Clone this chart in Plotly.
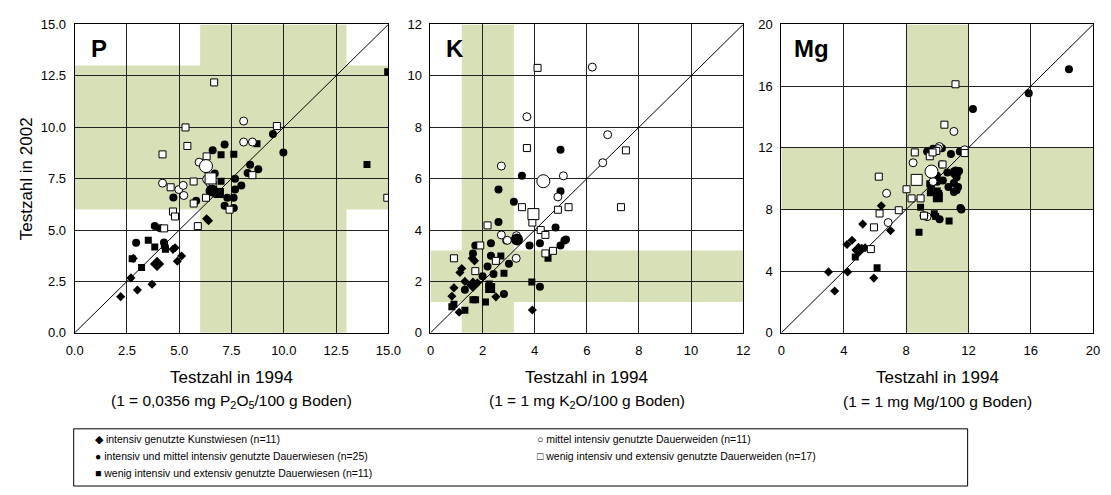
import plotly.graph_objects as go

W, H = 1111, 495
FONT = "Liberation Sans, Arial, sans-serif"

# ---------------- axis / panel definitions ----------------
panel_names = ["P", "K", "Mg"]
axis_max = [15.0, 12.0, 20.0]
tick_vals_P = [0.0, 2.5, 5.0, 7.5, 10.0, 12.5, 15.0]
tick_text_P = ["0.0", "2.5", "5.0", "7.5", "10.0", "12.5", "15.0"]
tick_vals_K = [0, 2, 4, 6, 8, 10, 12]
tick_text_K = ["0", "2", "4", "6", "8", "10", "12"]
tick_vals_Mg = [0, 4, 8, 12, 16, 20]
tick_text_Mg = ["0", "4", "8", "12", "16", "20"]
opt_low = [6.0, 1.2, 8.0]     # optimal range (green bands)
opt_high = [13.0, 3.2, 12.0]
subtitles = ["(1 = 0,0356 mg P<sub>2</sub>O<sub>5</sub>/100 g Boden)",
             "(1 = 1 mg K<sub>2</sub>O/100 g Boden)",
             "(1 = 1 mg Mg/100 g Boden)"]
x_title = "Testzahl in 1994"
y_title = "Testzahl in 2002"

group_labels = [
    "intensiv genutzte Kunstwiesen (n=11)",
    "intensiv und mittel intensiv genutzte Dauerwiesen (n=25)",
    "wenig intensiv und extensiv genutzte Dauerwiesen (n=11)",
    "mittel intensiv genutzte Dauerweiden (n=11)",
    "wenig intensiv und extensiv genutzte Dauerweiden (n=17)",
]
legend_glyphs = ["\u25c6", "\u25cf", "\u25a0", "\u25cb", "\u25a1"]

# ---------------- data: P ----------------
P_kunst_1994 = [2.20, 3.00, 3.70, 2.69, 2.80, 4.70, 4.80, 4.91, 5.11, 6.31, 6.40]
P_kunst_2002 = [1.76, 2.08, 2.36, 2.67, 3.62, 4.06, 4.14, 3.48, 3.74, 5.55, 5.45]
P_wiesen_1994 = [2.94, 3.83, 4.09, 4.27, 4.31, 4.72, 5.81, 6.60, 7.17, 6.70, 7.67, 7.97, 7.67,
                 7.60, 7.30, 7.17, 7.61, 8.39, 8.27, 8.78, 9.48, 9.98, 6.45, 6.75, 6.50]
P_wiesen_2002 = [4.38, 5.20, 5.09, 4.39, 4.20, 6.58, 6.42, 8.88, 9.16, 7.75, 7.49, 7.17, 6.97,
                 6.57, 6.57, 6.18, 6.07, 8.17, 7.78, 7.96, 9.67, 8.77, 6.90, 6.75, 7.00]
P_wiesenext_1994 = [2.75, 3.20, 3.52, 3.83, 4.34, 7.00, 7.61, 8.72, 7.00, 14.97, 13.98]
P_wiesenext_2002 = [3.60, 3.18, 4.50, 4.17, 4.06, 8.66, 8.68, 9.20, 7.37, 12.70, 8.19]
P_weiden_1994 = [8.08, 8.08, 8.50, 4.20, 4.98, 5.19, 5.22, 6.11, 6.31, 6.45, 5.95]
P_weiden_2002 = [10.30, 9.28, 9.28, 7.28, 6.97, 7.17, 6.68, 8.25, 7.47, 7.30, 8.30]
P_weidenext_1994 = [4.20, 5.30, 5.39, 6.31, 4.59, 5.69, 5.69, 6.28, 6.60, 4.70, 4.80, 4.28,
                    5.89, 7.41, 8.50, 9.67, 6.67, 14.95]
P_weidenext_2002 = [8.68, 9.99, 9.09, 8.58, 7.08, 7.36, 6.29, 6.57, 7.20, 5.90, 5.66, 5.08,
                    5.19, 5.99, 7.67, 10.06, 12.18, 6.57]
P_mean_1994 = [3.94, 6.58, 6.90, 6.28, 6.50]
P_mean_2002 = [3.35, 6.92, 6.80, 8.11, 7.51]

# ---------------- data: K ----------------
K_kunst_1994 = [0.82, 0.90, 1.10, 1.13, 1.20, 1.32, 1.60, 1.69, 1.80, 2.51, 3.91]
K_kunst_2002 = [1.42, 1.75, 0.80, 2.35, 2.50, 2.00, 2.90, 2.80, 1.95, 1.40, 0.89]
K_wiesen_1994 = [1.72, 1.63, 1.32, 2.00, 2.19, 2.32, 2.32, 2.42, 2.61, 2.61, 2.82, 2.91, 3.01,
                 3.20, 3.51, 3.80, 4.20, 4.20, 4.80, 4.99, 4.99, 4.99, 5.14, 5.20, 3.25]
K_wiesen_2002 = [3.40, 3.09, 1.68, 2.20, 2.58, 3.00, 3.49, 2.29, 5.58, 4.31, 1.51, 3.59, 2.69,
                 5.10, 6.11, 3.40, 1.79, 3.49, 4.10, 7.12, 5.51, 3.40, 3.59, 3.63, 3.65]
K_wiesenext_1994 = [0.82, 0.90, 1.32, 1.63, 1.73, 2.11, 2.70, 2.82, 3.89, 4.51, 2.25]
K_wiesenext_2002 = [1.01, 1.11, 0.88, 1.29, 1.29, 1.20, 2.99, 2.32, 1.98, 2.90, 1.90]
K_weiden_1994 = [2.72, 3.70, 6.21, 6.80, 6.61, 5.10, 4.89, 2.72, 3.30, 3.29, 2.95]
K_weiden_2002 = [6.49, 8.41, 10.34, 7.71, 6.62, 6.11, 5.29, 3.81, 3.78, 2.90, 3.60]
K_weidenext_1994 = [4.11, 3.70, 7.50, 7.31, 3.51, 4.89, 5.30, 3.91, 4.23, 4.41, 4.41, 4.70,
                    2.19, 1.91, 2.51, 1.72, 0.90]
K_weidenext_2002 = [10.31, 7.19, 7.10, 4.89, 4.89, 4.79, 4.89, 4.29, 4.00, 3.81, 3.09, 3.19,
                    4.18, 3.40, 2.80, 2.40, 2.90]
K_mean_1994 = [1.63, 3.32, 2.29, 4.33, 3.95]
K_mean_2002 = [1.87, 3.63, 1.74, 5.90, 4.62]

# ---------------- data: Mg ----------------
Mg_kunst_1994 = [3.02, 3.42, 4.25, 4.21, 4.53, 5.22, 6.41, 7.00, 5.93, 5.37, 5.16]
Mg_kunst_2002 = [3.95, 2.71, 3.95, 5.73, 6.00, 7.05, 8.24, 6.63, 3.55, 5.52, 5.48]
Mg_wiesen_1994 = [18.45, 15.87, 12.29, 9.35, 9.73, 10.30, 10.88, 11.45, 10.30, 10.65, 11.24,
                  11.07, 11.34, 10.72, 11.24, 11.07, 10.36, 9.98, 11.49, 11.55, 10.15, 9.14,
                  11.40, 10.00, 9.60]
Mg_wiesen_2002 = [17.10, 15.53, 14.52, 11.76, 11.93, 11.97, 11.60, 11.76, 10.92, 10.40, 10.09,
                  9.71, 9.46, 9.46, 9.25, 9.14, 9.88, 10.19, 8.10, 7.99, 7.36, 7.57, 10.50,
                  9.80, 9.50]
Mg_wiesenext_1994 = [4.74, 6.14, 8.83, 8.93, 9.56, 9.52, 9.81, 10.76, 10.09, 9.90, 10.00]
Mg_wiesenext_2002 = [4.91, 4.22, 6.52, 8.14, 9.08, 9.67, 7.72, 7.26, 9.04, 7.55, 9.20]
Mg_weiden_1994 = [11.07, 10.13, 8.45, 6.75, 6.85, 9.73, 9.35, 9.15, 11.76, 10.05, 9.90]
Mg_weiden_2002 = [13.06, 12.08, 11.03, 9.05, 7.15, 9.81, 7.53, 7.60, 11.87, 11.95, 11.80]
Mg_weidenext_1994 = [11.17, 10.46, 8.56, 9.52, 9.94, 9.70, 10.34, 11.76, 8.03, 8.35, 8.93,
                     7.53, 6.30, 6.25, 5.94, 5.74, 9.15]
Mg_weidenext_2002 = [16.12, 13.50, 11.70, 11.45, 11.80, 11.70, 10.92, 11.66, 9.31, 8.72, 8.72,
                     7.95, 7.74, 10.13, 6.84, 5.43, 7.60]
Mg_mean_1994 = [4.95, 11.18, 10.04, 9.63, 8.68]
Mg_mean_2002 = [5.37, 10.40, 8.79, 10.46, 9.92]

panels = [
    dict(groups=[(P_kunst_1994, P_kunst_2002), (P_wiesen_1994, P_wiesen_2002),
                 (P_wiesenext_1994, P_wiesenext_2002), (P_weiden_1994, P_weiden_2002),
                 (P_weidenext_1994, P_weidenext_2002)],
         mean=(P_mean_1994, P_mean_2002), tv=tick_vals_P, tt=tick_text_P),
    dict(groups=[(K_kunst_1994, K_kunst_2002), (K_wiesen_1994, K_wiesen_2002),
                 (K_wiesenext_1994, K_wiesenext_2002), (K_weiden_1994, K_weiden_2002),
                 (K_weidenext_1994, K_weidenext_2002)],
         mean=(K_mean_1994, K_mean_2002), tv=tick_vals_K, tt=tick_text_K),
    dict(groups=[(Mg_kunst_1994, Mg_kunst_2002), (Mg_wiesen_1994, Mg_wiesen_2002),
                 (Mg_wiesenext_1994, Mg_wiesenext_2002), (Mg_weiden_1994, Mg_weiden_2002),
                 (Mg_weidenext_1994, Mg_weidenext_2002)],
         mean=(Mg_mean_1994, Mg_mean_2002), tv=tick_vals_Mg, tt=tick_text_Mg),
]

# marker styles per group: symbol, fill, small size, mean size
styles = [
    ("diamond", "black", 7, 11),
    ("circle", "black", 8, 12),
    ("square", "black", 7, 10),
    ("circle", "white", 8, 13),
    ("square", "white", 7, 11),
]

GREEN = "#d8e0b7"

# panel pixel boxes (left, right, top, bottom)
px_x = [(67, 387), (430, 749), (788, 1106)]
px_y = (18, 336)


def fx(p):
    return p / W


def fy(p):
    return 1 - p / H


fig = go.Figure()
shapes = []
annotations = []

for i, pan in enumerate(panels):
    xa = "x" if i == 0 else f"x{i+1}"
    ya = "y" if i == 0 else f"y{i+1}"
    m = axis_max[i]
    # green bands
    shapes.append(dict(type="rect", xref=xa, yref=ya, x0=opt_low[i], x1=opt_high[i],
                       y0=0, y1=m, fillcolor=GREEN, line_width=0, layer="below"))
    shapes.append(dict(type="rect", xref=xa, yref=ya, x0=0, x1=m,
                       y0=opt_low[i], y1=opt_high[i], fillcolor=GREEN, line_width=0, layer="below"))
    # 1:1 line
    fig.add_trace(go.Scatter(x=[0, m], y=[0, m], mode="lines", xaxis=xa, yaxis=ya,
                             line=dict(color="black", width=1), showlegend=False,
                             hoverinfo="skip"))
    for g, (gx, gy) in enumerate(pan["groups"]):
        sym, fill, s, _ = styles[g]
        fig.add_trace(go.Scatter(
            x=gx, y=gy, mode="markers", xaxis=xa, yaxis=ya, showlegend=False,
            name=group_labels[g],
            marker=dict(symbol=sym, color=fill, size=s,
                        line=dict(color="black", width=1 if fill == "white" else 0))))
    mx, my = pan["mean"]
    for g in range(5):
        sym, fill, _, ms = styles[g]
        fig.add_trace(go.Scatter(
            x=[mx[g]], y=[my[g]], mode="markers", xaxis=xa, yaxis=ya, showlegend=False,
            name=group_labels[g] + " (Mittel)",
            marker=dict(symbol=sym, color=fill, size=ms,
                        line=dict(color="black", width=1 if fill == "white" else 0))))

    axis_common = dict(range=[0, m], tickvals=pan["tv"], ticktext=pan["tt"],
                       showgrid=True, gridcolor="#222222", gridwidth=1,
                       showline=True, linecolor="black", linewidth=1, mirror=True,
                       zeroline=False, ticks="", tickfont=dict(family=FONT, size=13, color="black"))
    fig.update_layout({
        ("xaxis" if i == 0 else f"xaxis{i+1}"): dict(
            axis_common, domain=[fx(px_x[i][0]), fx(px_x[i][1])], anchor=ya,
            ticklabelstandoff=6),
        ("yaxis" if i == 0 else f"yaxis{i+1}"): dict(
            axis_common, domain=[fy(px_y[1]), fy(px_y[0])], anchor=xa,
            ticklabelstandoff=5),
    })

    # panel label
    annotations.append(dict(text=f"<b>{panel_names[i]}</b>", xref="paper", yref="paper",
                            x=fx(px_x[i][0] + [15, 14, 11][i]), y=fy(43), xanchor="left",
                            yanchor="middle", showarrow=False,
                            font=dict(family=FONT, size=24, color="black")))
    cx = (px_x[i][0] + px_x[i][1]) / 2
    annotations.append(dict(text=x_title, xref="paper", yref="paper", x=fx(cx), y=fy(382),
                            xanchor="center", yanchor="middle", showarrow=False,
                            font=dict(family=FONT, size=17, color="black")))
    annotations.append(dict(text=subtitles[i], xref="paper", yref="paper", x=fx(cx), y=fy(407),
                            xanchor="center", yanchor="middle", showarrow=False,
                            font=dict(family=FONT, size=15.5, color="black")))

annotations.append(dict(text=y_title, xref="paper", yref="paper", x=fx(18), y=fy(177),
                        xanchor="center", yanchor="middle", textangle=-90, showarrow=False,
                        font=dict(family=FONT, size=17, color="black")))

# legend box + entries (two columns)
shapes.append(dict(type="rect", xref="paper", yref="paper", x0=fx(66), x1=fx(978),
                   y0=fy(494), y1=fy(435), line=dict(color="black", width=1),
                   fillcolor="white", layer="above"))
legend_pos = [(86, 445), (86, 463), (86, 481), (537, 445), (537, 463)]
for g in range(5):
    lx, ly = legend_pos[g]
    annotations.append(dict(text=legend_glyphs[g] + " " + group_labels[g], xref="paper",
                            yref="paper", x=fx(lx), y=fy(ly), xanchor="left", yanchor="middle",
                            showarrow=False, font=dict(family=FONT, size=10.5, color="black")))

fig.update_layout(width=W, height=H, margin=dict(l=0, r=0, t=0, b=0),
                  paper_bgcolor="white", plot_bgcolor="white",
                  shapes=shapes, annotations=annotations, showlegend=False)

fig.write_html("out.html")
